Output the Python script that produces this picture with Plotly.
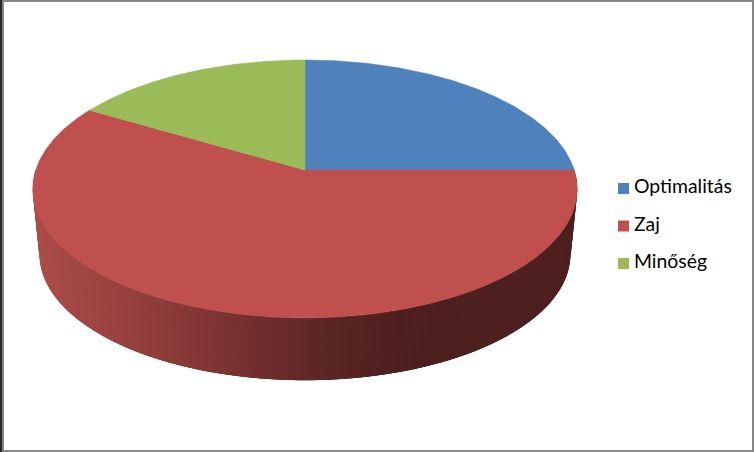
"""
3D looking pie drawn on a pixel sized cartesian plot
"""
import numpy as np
import plotly.graph_objects as go

labels = ['Optimalitás', 'Zaj', 'Minőség']
values = [25, 58.5, 16.5]
colors = ['#4F81BD', '#C0504D', '#9BBB59']

W, H = 754, 452

# projection of the disc (slightly perspective)
CX, CY = 305, 170
RX, RY = 269.3, 126.2
PERSP = 0.147
# bottom rim of the disc
BOTTOM_CY = 236
BOTTOM_SCALE = 0.975

# side shading, by screen x
SHADE_X = [35, 130, 220, 305, 400, 600]
SHADE_R = [172, 150, 125, 97, 77, 77]
SHADE_G = [76, 65, 52, 41, 31, 31]
SHADE_B = [73, 62, 50, 40, 31, 31]


def project(deg, cy=CY, scale=1.0):
    """ Angle clockwise from 12 o'clock -> screen x, y """
    t = np.radians(deg)
    w = 1 + PERSP * np.cos(t)
    return CX + scale * RX * np.sin(t) / w, cy - scale * RY * np.cos(t) / w


fig = go.Figure()

shares = np.array(values) / sum(values) * 360
ends = np.cumsum(shares)
starts = ends - shares

# side of the disc: only the front half can be seen
zaj = labels.index('Zaj')
side_from = max(starts[zaj], 90)
side_to = min(ends[zaj], 270)
steps = np.linspace(side_from, side_to, 121)
for i in range(len(steps) - 1):
    # each strip runs under the next one so no seams show
    arc = np.linspace(steps[i], steps[min(i + 3, len(steps) - 1)], 4)
    tx, ty = project(arc)
    bx, by = project(arc[::-1], BOTTOM_CY, BOTTOM_SCALE)
    mid_x = (project(steps[i])[0] + project(steps[i + 1])[0]) / 2
    color = 'rgb(%d,%d,%d)' % (np.interp(mid_x, SHADE_X, SHADE_R),
                               np.interp(mid_x, SHADE_X, SHADE_G),
                               np.interp(mid_x, SHADE_X, SHADE_B))
    fig.add_trace(go.Scatter(
        x=np.r_[tx, bx, tx[0]], y=np.r_[ty, by, ty[0]],
        mode='lines', fill='toself', fillcolor=color,
        line=dict(color=color, width=0),
        hoverinfo='skip', showlegend=False
    ))

# top face
for label, color, a, b in zip(labels, colors, starts, ends):
    arc = np.linspace(a, b, max(int(b - a) * 2, 2))
    x, y = project(arc)
    fig.add_trace(go.Scatter(
        x=np.r_[CX, x, CX], y=np.r_[CY, y, CY],
        mode='lines', fill='toself', fillcolor=color,
        line=dict(color=color, width=0.5),
        name=label, showlegend=False
    ))

# legend, placed by hand since the native one keeps a wide swatch gap
KEY_X = 623.5
KEY_Y = [188.5, 226, 263.5]
for label, color, ky in zip(labels, colors, KEY_Y):
    fig.add_trace(go.Scatter(
        x=[KEY_X], y=[ky], mode='markers',
        marker=dict(symbol='square', size=11, color=color),
        showlegend=False, hoverinfo='skip'
    ))
    fig.add_trace(go.Scatter(
        x=[KEY_X + 10.5], y=[ky], mode='text',
        text=[label], textposition='middle right',
        textfont=dict(family='Lato', size=19.4, color='black'),
        showlegend=False, hoverinfo='skip'
    ))

# window frame
frame = [(0, 0, W, 2, '#868686'), (0, H - 2, W, H, '#868686'),
         (W - 2, 0, W, H, '#868686'), (2, 0, 4, H, '#868686'),
         (0, 0, 2, H, '#262626')]
for x0, y0, x1, y1, c in frame:
    fig.add_shape(type='rect', x0=x0, y0=y0, x1=x1, y1=y1,
                  fillcolor=c, line_width=0, layer='above')

fig.update_layout(
    width=W, height=H,
    margin=dict(l=0, r=0, t=0, b=0),
    paper_bgcolor='white', plot_bgcolor='white',
    xaxis=dict(range=[0, W], visible=False),
    yaxis=dict(range=[H, 0], visible=False),
    showlegend=False
)

# the page's default body margin would push the plot off the window
fig.write_html("out.html", config=dict(displayModeBar=False),
               post_script="document.body.style.margin = '0';")
